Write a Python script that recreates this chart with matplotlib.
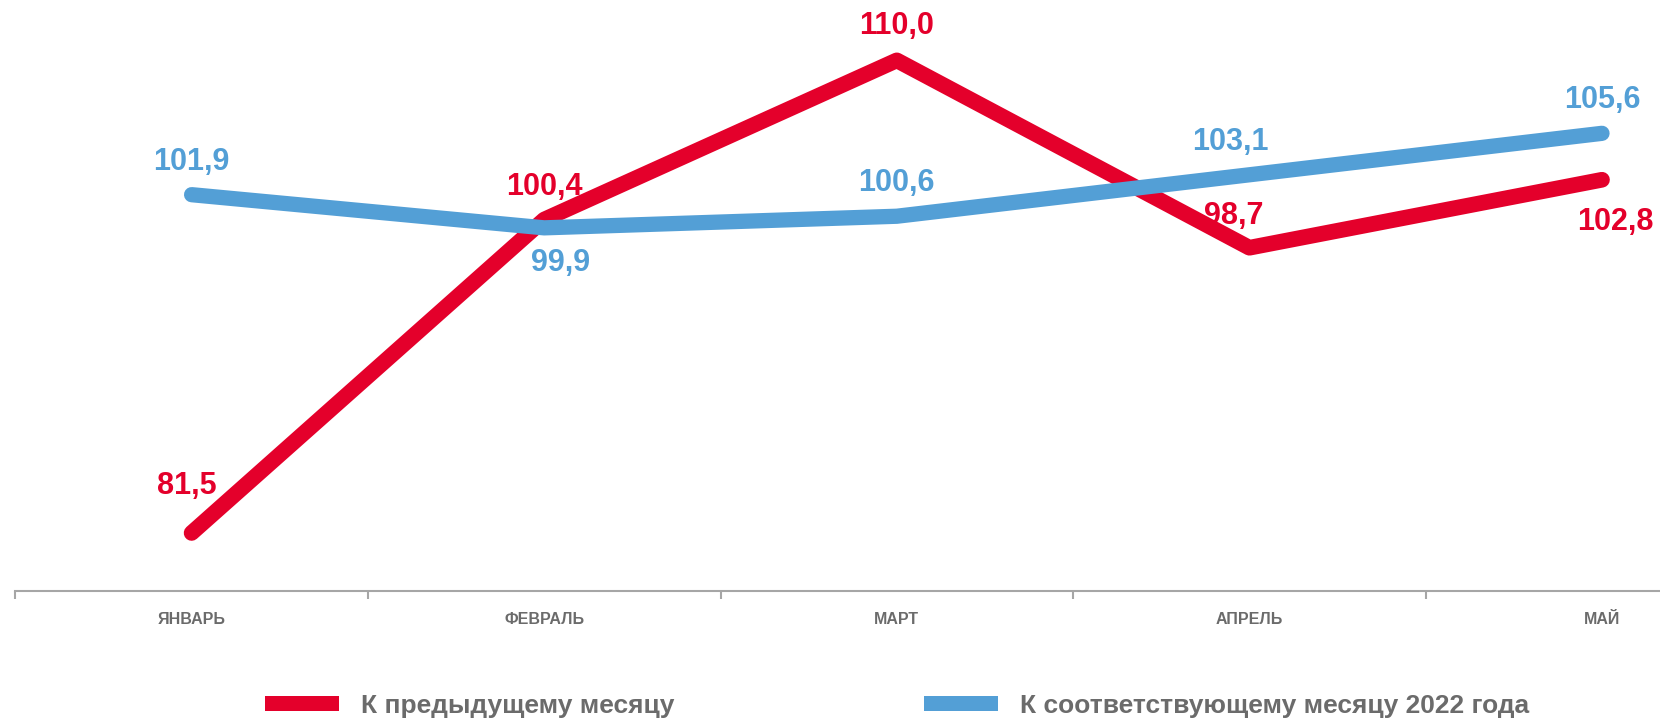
import matplotlib
matplotlib.use("Agg")
import matplotlib.pyplot as plt
from matplotlib.patches import Patch

plt.rcParams['font.family'] = ['Liberation Sans', 'DejaVu Sans']

months = ["ЯНВАРЬ", "ФЕВРАЛЬ", "МАРТ", "АПРЕЛЬ", "МАЙ"]
prev_month = [81.5, 100.4, 110.0, 98.7, 102.8]
same_month_2022 = [101.9, 99.9, 100.6, 103.1, 105.6]
series_names = ["К предыдущему месяцу", "К соответствующему месяцу 2022 года"]

RED = "#E4002B"
BLUE = "#539FD6"
GRAY = "#6B6B6B"

# label offsets in pixels (dx, dy)
red_off = [(-5, 47), (0, 33), (0, 34), (-16, 32), (13, -42)]
blue_off = [(0, 33), (16, -35), (0, 33), (-19, 33), (0, 33)]

fig = plt.figure(figsize=(16.6, 7.21), dpi=100)
ax = fig.add_axes([15.3 / 1660, 0.1803, 1763 / 1660, 0.8197])

x = list(range(len(months)))
ax.plot(x, prev_month, color=RED, lw=11.3, solid_capstyle="round", solid_joinstyle="round", zorder=2)
ax.plot(x, same_month_2022, color=BLUE, lw=11.0, solid_capstyle="round", solid_joinstyle="round", zorder=3)

def fmt(v):
    return f"{v:.1f}".replace(".", ",")

for i in x:
    ax.annotate(fmt(prev_month[i]), (i, prev_month[i]), xytext=red_off[i], textcoords="offset pixels",
                ha="center", va="center", color=RED, fontsize=22, fontweight="bold", zorder=5)
    ax.annotate(fmt(same_month_2022[i]), (i, same_month_2022[i]), xytext=blue_off[i], textcoords="offset pixels",
                ha="center", va="center", color=BLUE, fontsize=22, fontweight="bold", zorder=5)

ax.set_xlim(-0.5, 4.5)
ax.set_ylim(78, 113.64)
for s in ["top", "right", "left"]:
    ax.spines[s].set_visible(False)
ax.spines["bottom"].set_color("#A6A6A6")
ax.spines["bottom"].set_linewidth(1.5)
ax.set_yticks([])
ax.set_xticks(x)
ax.set_xticklabels(months, fontsize=11.5, fontweight="bold", color=GRAY)
ax.tick_params(axis="x", which="major", length=0, pad=15)
ax.set_xticks([i - 0.5 for i in range(len(months) + 1)], minor=True)
ax.tick_params(axis="x", which="minor", length=6, width=1.5, color="#A6A6A6")

handles = [Patch(facecolor=RED), Patch(facecolor=BLUE)]
xs = [265 / 1660, 924 / 1660]
for h, name, xx in zip(handles, series_names, xs):
    fig.legend([h], [name], loc="center left", bbox_to_anchor=(xx, 1 - 706 / 721), frameon=False,
               handlelength=2.8, handleheight=0.5, handletextpad=0.85,
               borderpad=0, borderaxespad=0,
               prop={"weight": "bold", "size": 19}, labelcolor=GRAY)

fig.savefig("out.png", dpi=100)
